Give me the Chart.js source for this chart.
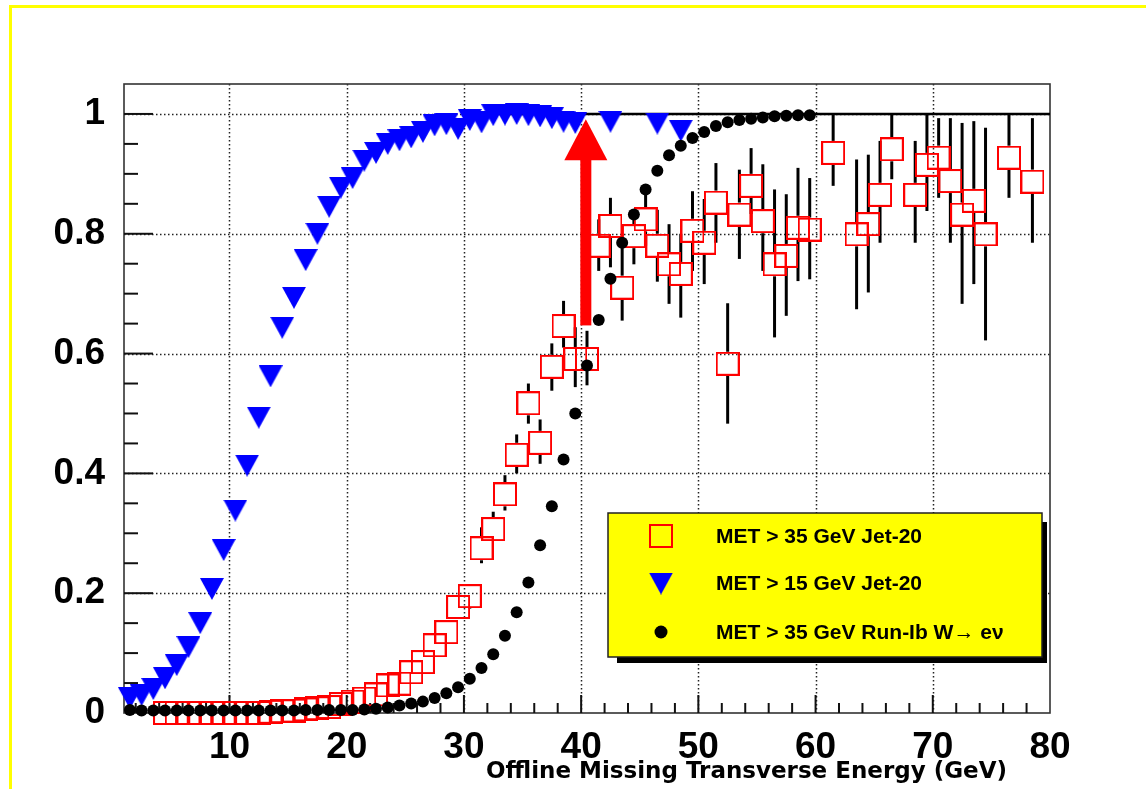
<!DOCTYPE html>
<html>
<head>
<meta charset="utf-8">
<script src="https://cdn.jsdelivr.net/npm/chart.js@4.4.1/dist/chart.umd.min.js"></script>
<style>
  html, body { margin: 0; padding: 0; background: #ffffff; }
  canvas { display: block; }
</style>
</head>
<body>
<canvas id="c" width="1146" height="789"></canvas>
<script>
// MET trigger efficiency vs offline missing transverse energy

const xTicks = [10, 20, 30, 40, 50, 60, 70, 80];
const yTicks = [0, 0.2, 0.4, 0.6, 0.8, 1];
const yTickLabels = ['0', '0.2', '0.4', '0.6', '0.8', '1'];
const xTitle = 'Offline Missing Transverse Energy (GeV)';

// MET > 35 GeV, Jet-20 sample (open red squares, with uncertainties)
const jet35X = [4.5, 5.5, 6.5, 7.5, 8.5, 9.5, 10.5, 11.5, 12.5, 13.5, 14.5, 15.5, 16.5, 17.5,
  18.5, 19.5, 20.5, 21.5, 22.5, 23.5, 24.5, 25.5, 26.5, 27.5, 28.5, 29.5, 30.5, 31.5, 32.5,
  33.5, 34.5, 35.5, 36.5, 37.5, 38.5, 39.5, 40.5, 41.5, 42.5, 43.5, 44.5, 45.5, 46.5, 47.5,
  48.5, 49.5, 50.5, 51.5, 52.5, 53.5, 54.5, 55.5, 56.5, 57.5, 58.5, 59.5, 61.5, 63.5, 64.5,
  65.5, 66.5, 68.5, 69.5, 70.5, 71.5, 72.5, 73.5, 74.5, 76.5, 78.5];
const jet35Y = [0, 0, 0, 0, 0, 0, 0, 0, 0, 0.002, 0.003, 0.004, 0.006, 0.008,
  0.010, 0.015, 0.019, 0.024, 0.031, 0.046, 0.049, 0.068, 0.085, 0.113, 0.135, 0.177, 0.195, 0.275, 0.307,
  0.365, 0.431, 0.517, 0.451, 0.578, 0.646, 0.591, 0.591, 0.780, 0.813, 0.710, 0.796, 0.824, 0.780, 0.749,
  0.733, 0.805, 0.785, 0.852, 0.583, 0.832, 0.880, 0.821, 0.749, 0.763, 0.810, 0.807, 0.935, 0.799, 0.816,
  0.865, 0.941, 0.865, 0.915, 0.927, 0.888, 0.832, 0.855, 0.799, 0.927, 0.887];
const jet35Lo = [null, null, null, null, null, null, null, null, null, null, null, null, null, null,
  null, null, null, null, null, null, null, null, 0.070, 0.095, 0.115, 0.160, 0.174, 0.250, 0.287,
  0.338, 0.400, 0.483, 0.416, 0.538, 0.610, 0.544, 0.547, 0.738, 0.744, 0.655, 0.749, 0.780, 0.720, 0.683,
  0.660, 0.738, 0.716, 0.785, 0.483, 0.758, 0.833, 0.738, 0.627, 0.663, 0.721, 0.724, 0.880, 0.674, 0.702,
  0.785, 0.891, 0.785, 0.838, 0.860, 0.785, 0.683, 0.716, 0.622, 0.860, 0.785];
const jet35Hi = [null, null, null, null, null, null, null, null, null, null, null, null, null, null,
  null, null, null, null, null, null, null, null, 0.100, 0.130, 0.155, 0.197, 0.215, 0.310, 0.336,
  0.397, 0.465, 0.550, 0.490, 0.617, 0.688, 0.644, 0.638, 0.824, 0.860, 0.780, 0.830, 0.870, 0.840, 0.816,
  0.800, 0.871, 0.858, 0.918, 0.684, 0.907, 0.943, 0.916, 0.874, 0.866, 0.910, 0.893, 1.000, 0.924, 0.932,
  0.955, 1.000, 0.955, 1.000, 0.993, 0.993, 0.985, 0.988, 0.977, 1.000, 0.993];

// MET > 15 GeV, Jet-20 sample (blue triangles)
const jet15X = [1.5, 2.5, 3.5, 4.5, 5.5, 6.5, 7.5, 8.5, 9.5, 10.5, 11.5, 12.5, 13.5, 14.5,
  15.5, 16.5, 17.5, 18.5, 19.5, 20.5, 21.5, 22.5, 23.5, 24.5, 25.5, 26.5, 27.5, 28.5, 29.5,
  30.5, 31.5, 32.5, 33.5, 34.5, 35.5, 36.5, 37.5, 38.5, 39.5, 42.5, 46.5, 48.5];
const jet15Y = [0.025, 0.030, 0.040, 0.058, 0.080, 0.110, 0.150, 0.207, 0.272, 0.338, 0.413, 0.493, 0.562, 0.643,
  0.693, 0.756, 0.800, 0.845, 0.877, 0.893, 0.922, 0.935, 0.950, 0.956, 0.961, 0.970, 0.981, 0.983, 0.975,
  0.990, 0.986, 0.998, 0.999, 1.000, 0.998, 0.996, 0.993, 0.987, 0.985, 0.987, 0.984, 0.972];

// MET > 35 GeV, Run-Ib W -> e nu sample (black dots)
const runIbX = [1.5, 2.5, 3.5, 4.5, 5.5, 6.5, 7.5, 8.5, 9.5, 10.5, 11.5, 12.5, 13.5, 14.5,
  15.5, 16.5, 17.5, 18.5, 19.5, 20.5, 21.5, 22.5, 23.5, 24.5, 25.5, 26.5, 27.5, 28.5, 29.5,
  30.5, 31.5, 32.5, 33.5, 34.5, 35.5, 36.5, 37.5, 38.5, 39.5, 40.5, 41.5, 42.5, 43.5, 44.5,
  45.5, 46.5, 47.5, 48.5, 49.5, 50.5, 51.5, 52.5, 53.5, 54.5, 55.5, 56.5, 57.5, 58.5, 59.5];
const runIbY = [0.005, 0.004, 0.004, 0.004, 0.004, 0.004, 0.004, 0.004, 0.004, 0.004, 0.004, 0.004, 0.004, 0.004,
  0.004, 0.005, 0.005, 0.005, 0.005, 0.005, 0.006, 0.007, 0.009, 0.0125, 0.016, 0.019, 0.025, 0.033, 0.043,
  0.057, 0.075, 0.098, 0.129, 0.168, 0.218, 0.280, 0.345, 0.423, 0.500, 0.580, 0.656, 0.725, 0.785, 0.832,
  0.874, 0.905, 0.931, 0.947, 0.960, 0.970, 0.980, 0.986, 0.990, 0.992, 0.994, 0.996, 0.997, 0.998, 0.998];

// full-efficiency reference line
const plateauX = [30, 80];
const plateauY = [1, 1];

// threshold arrow (x, from, to)
const arrowX = 40.4;
const arrowY = [0.647, 0.991];

const seriesLabels = ['MET > 35 GeV Jet-20', 'MET > 15 GeV Jet-20', 'MET > 35 GeV Run-Ib W\u2192 e\u03bd'];

// marker images
function makeSquare() {
  const c = document.createElement('canvas');
  c.width = 24; c.height = 24;
  const g = c.getContext('2d');
  g.strokeStyle = '#ff0000'; g.lineWidth = 2;
  g.strokeRect(1, 1, 22, 22);
  return c;
}
function makeTriangle() {
  const c = document.createElement('canvas');
  c.width = 24; c.height = 22;
  const g = c.getContext('2d');
  g.fillStyle = '#0000ff';
  g.beginPath(); g.moveTo(0, 0); g.lineTo(24, 0); g.lineTo(12, 22); g.closePath(); g.fill();
  return c;
}
const squareMarker = makeSquare();
const triangleMarker = makeTriangle();

const toPoints = (xs, ys) => xs.map((v, i) => ({ x: v, y: ys[i] }));

const LABEL_FONT = { family: 'Liberation Sans', size: 37, weight: 'bold' };

// background, yellow page frame
const pagePlugin = {
  id: 'page',
  beforeDraw(chart) {
    const ctx = chart.ctx;
    ctx.save();
    ctx.fillStyle = '#ffffff';
    ctx.fillRect(0, 0, chart.width, chart.height);
    ctx.fillStyle = '#ffff00';
    ctx.fillRect(9, 5, 3, chart.height - 5);
    ctx.fillRect(9, 5, chart.width - 9, 3);
    ctx.restore();
  }
};

// dotted grid, frame, tick marks, error bars, arrow, legend, axis title
const framePlugin = {
  id: 'frame',
  beforeDatasetsDraw(chart) {
    const { ctx, chartArea: { left, right, top, bottom }, scales: { x, y } } = chart;
    const line = (x0, y0, x1, y1) => { ctx.beginPath(); ctx.moveTo(x0, y0); ctx.lineTo(x1, y1); ctx.stroke(); };
    ctx.save();
    ctx.strokeStyle = '#222';
    ctx.lineWidth = 1.5;
    ctx.setLineDash([1.5, 2.5]);
    xTicks.forEach(v => {
      if (v >= 80) return;
      const px = Math.round(x.getPixelForValue(v)) + 0.5;
      line(px, top, px, bottom);
    });
    yTicks.forEach(v => {
      if (v <= 0) return;
      const py = Math.round(y.getPixelForValue(v)) + 0.5;
      line(left, py, right, py);
    });
    ctx.setLineDash([]);
    ctx.strokeStyle = '#333';
    ctx.lineWidth = 1.6;
    ctx.strokeRect(left, top, right - left, bottom - top);

    ctx.strokeStyle = '#111';
    ctx.lineWidth = 2;
    for (let v = 0.05; v < 1.04; v += 0.05) {
      const py = y.getPixelForValue(v);
      const major = Math.abs(v * 5 - Math.round(v * 5)) < 1e-6;
      line(left, py, left + (major ? 29 : 14), py);
    }
    for (let v = 2; v < 80; v += 2) {
      const px = x.getPixelForValue(v);
      const major = v % 10 === 0;
      line(px, bottom, px, bottom - (major ? 18 : 10));
    }

    // uncertainties on the Jet-20 (MET > 35) points, drawn outside the marker
    ctx.strokeStyle = '#000';
    ctx.lineWidth = 3;
    const half = 12;
    jet35X.forEach((v, i) => {
      if (jet35Lo[i] == null) return;
      const px = x.getPixelForValue(v);
      const py = y.getPixelForValue(jet35Y[i]);
      const pHi = y.getPixelForValue(jet35Hi[i]);
      const pLo = y.getPixelForValue(jet35Lo[i]);
      if (pHi < py - half) line(px, pHi, px, py - half);
      if (pLo > py + half) line(px, py + half, px, pLo);
    });
    ctx.restore();
  },
  afterDatasetsDraw(chart) {
    const { ctx, scales: { x, y } } = chart;
    const ax = x.getPixelForValue(arrowX);
    const y0 = y.getPixelForValue(arrowY[0]);
    const y1 = y.getPixelForValue(arrowY[1]);
    const headLen = 41, headHalf = 21.5, shaftHalf = 5.5;
    ctx.save();
    ctx.fillStyle = '#ff0000';
    ctx.fillRect(ax - shaftHalf, y1 + headLen - 1, shaftHalf * 2, y0 - (y1 + headLen - 1));
    ctx.beginPath();
    ctx.moveTo(ax, y1);
    ctx.lineTo(ax - headHalf, y1 + headLen);
    ctx.lineTo(ax + headHalf, y1 + headLen);
    ctx.closePath();
    ctx.fill();
    ctx.restore();
  },
  afterDraw(chart) {
    const { ctx, chartArea: { right } } = chart;
    ctx.save();
    // axis title
    ctx.fillStyle = '#000';
    ctx.font = 'bold 23px "DejaVu Sans"';
    ctx.textAlign = 'right';
    ctx.textBaseline = 'alphabetic';
    ctx.fillText(xTitle, right - 43, 778);

    // legend box with shadow
    const bx = 608, by = 513, bw = 434, bh = 144;
    ctx.fillStyle = '#000';
    ctx.fillRect(bx + 9, by + 9, bw - 4, bh - 3);
    ctx.fillStyle = '#ffff00';
    ctx.fillRect(bx, by, bw, bh);
    ctx.strokeStyle = '#222';
    ctx.lineWidth = 1.5;
    ctx.strokeRect(bx, by, bw, bh);

    const rows = [536, 583.5, 632];
    const mx = 661, tx = 716;
    ctx.drawImage(squareMarker, mx - 12, rows[0] - 12);
    ctx.drawImage(triangleMarker, mx - 12, rows[1] - 11);
    ctx.fillStyle = '#000';
    ctx.beginPath(); ctx.arc(mx, rows[2], 6.5, 0, Math.PI * 2); ctx.fill();

    ctx.font = 'bold 21px "Liberation Sans"';
    ctx.textAlign = 'left';
    ctx.textBaseline = 'middle';
    chart.data.datasets.filter(d => d.inLegend).forEach((d, i) => {
      ctx.fillText(d.label, tx, rows[i] + 1);
    });
    ctx.restore();
  }
};

new Chart(document.getElementById('c'), {
  type: 'scatter',
  data: {
    datasets: [
      {
        type: 'line',
        label: 'plateau',
        data: toPoints(plateauX, plateauY),
        borderColor: '#000',
        borderWidth: 2.5,
        pointRadius: 0,
        clip: false,
        order: 4
      },
      {
        label: seriesLabels[0],
        inLegend: true,
        data: toPoints(jet35X, jet35Y),
        pointStyle: squareMarker,
        pointRadius: 12,
        clip: false,
        order: 3
      },
      {
        label: seriesLabels[1],
        inLegend: true,
        data: toPoints(jet15X, jet15Y),
        pointStyle: triangleMarker,
        pointRadius: 12,
        clip: false,
        order: 2
      },
      {
        label: seriesLabels[2],
        inLegend: true,
        data: toPoints(runIbX, runIbY),
        pointStyle: 'circle',
        pointRadius: 6,
        backgroundColor: '#000',
        borderColor: '#000',
        borderWidth: 0,
        clip: false,
        order: 1
      }
    ]
  },
  options: {
    responsive: false,
    animation: false,
    devicePixelRatio: 1,
    layout: { padding: { top: 84, right: 96, left: 0, bottom: 0 } },
    plugins: {
      legend: { display: false },
      tooltip: { enabled: false },
      title: { display: false }
    },
    events: [],
    scales: {
      x: {
        type: 'linear',
        position: 'bottom',
        min: 1,
        max: 80,
        grid: { display: false },
        border: { display: false },
        ticks: {
          color: '#000',
          font: LABEL_FONT,
          padding: 5,
          maxRotation: 0,
          autoSkip: false,
          callback: v => String(v)
        },
        afterBuildTicks: s => { s.ticks = xTicks.map(v => ({ value: v })); },
        afterFit: s => { s.height = 76; }
      },
      y: {
        type: 'linear',
        min: 0,
        max: 1.05,
        grid: { display: false },
        border: { display: false },
        ticks: {
          color: '#000',
          font: LABEL_FONT,
          padding: 11,
          autoSkip: false,
          callback: (v, i) => yTickLabels[i]
        },
        afterBuildTicks: s => { s.ticks = yTicks.map(v => ({ value: v })); },
        afterFit: s => { s.width = 124; }
      }
    }
  },
  plugins: [pagePlugin, framePlugin]
});
</script>
</body>
</html>
